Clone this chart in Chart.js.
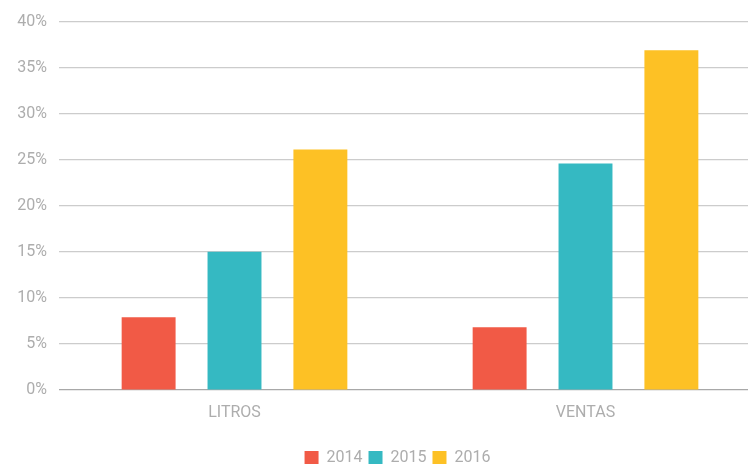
<!DOCTYPE html>
<html>
<head>
<meta charset="utf-8">
<script src="https://cdn.jsdelivr.net/npm/chart.js@4"></script>
<style>
  html, body { margin: 0; padding: 0; overflow: hidden; background: #fff; width: 748px; height: 464px; }
  #wrap { position: absolute; left: 0; top: 0; width: 789px; height: 480px; }
</style>
</head>
<body>
<div id="wrap"><canvas id="c"></canvas></div>
<script>
const categories = ['LITROS', 'VENTAS'];
const seriesNames = ['2014', '2015', '2016'];
const values2014 = [7.9, 6.8];
const values2015 = [15.0, 24.6];
const values2016 = [26.1, 36.9];
const seriesColors = ['#F15A46', '#35B9C2', '#FDC125'];
const yMin = 0, yMax = 40, yStep = 5;

const textColor = '#adadad';
const fontFamily = 'Roboto, "Open Sans", sans-serif';

new Chart(document.getElementById('c'), {
  type: 'bar',
  data: {
    labels: categories,
    datasets: [values2014, values2015, values2016].map((vals, i) => ({
      label: seriesNames[i],
      data: vals,
      backgroundColor: seriesColors[i],
      borderWidth: 0,
      categoryPercentage: 0.734,
      barPercentage: 0.628
    }))
  },
  options: {
    responsive: true,
    maintainAspectRatio: false,
    animation: false,
    layout: { padding: { top: 20, bottom: 4, left: 6, right: 0 } },
    plugins: {
      tooltip: { enabled: false },
      legend: {
        position: 'bottom',
        labels: {
          boxWidth: 14,
          boxHeight: 14,
          padding: 6,
          color: textColor,
          font: { family: fontFamily, size: 16 }
        }
      }
    },
    scales: {
      x: {
        grid: { display: false, drawTicks: false },
        border: { display: false },
        ticks: { color: textColor, font: { family: fontFamily, size: 16 }, padding: 13 },
        afterFit: s => { s.height = 54; }
      },
      y: {
        min: yMin,
        max: yMax,
        grid: {
          drawTicks: false,
          color: c => (c.tick && c.tick.value === 0) ? '#a8a8a8' : '#cccccc',
          lineWidth: 1.2
        },
        border: { display: false },
        ticks: {
          stepSize: yStep,
          padding: 12,
          color: textColor,
          font: { family: fontFamily, size: 16 },
          callback: v => v + '%'
        },
        afterFit: s => { s.width = 53; }
      },
      yR: {
        position: 'right',
        display: true,
        grid: { display: false },
        border: { display: false },
        ticks: { display: false },
        afterFit: s => { s.width = 28; }
      }
    }
  }
});
</script>
</body>
</html>
